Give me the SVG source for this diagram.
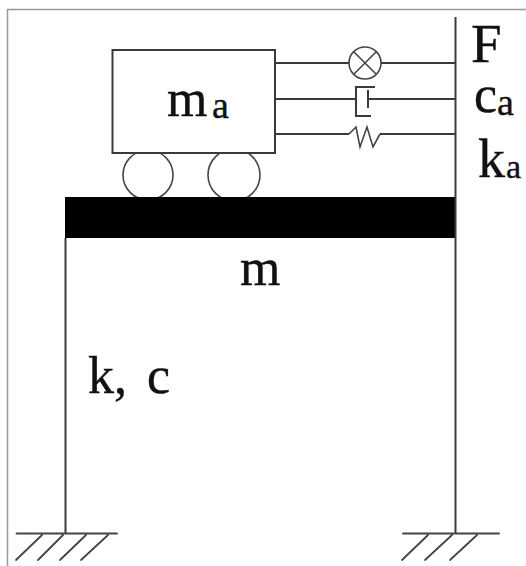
<svg xmlns="http://www.w3.org/2000/svg" width="526" height="566" viewBox="0 0 526 566">
<style>
.l{fill:none;stroke:#3a3a3a;stroke-width:2}
.h{fill:none;stroke:#444;stroke-width:1.8;stroke-linecap:round}
.t{fill:none;stroke:#444;stroke-width:1.6}
.w{fill:#fff;stroke:#444;stroke-width:1.6}
text{font-family:"Liberation Serif",serif;fill:#111;stroke:#111;stroke-width:.4}
.b{font-size:52px}
.s{font-size:38px}
</style>
<rect width="526" height="566" fill="#fff"/>
<path d="M7.500 566V9.500H526" fill="none" stroke="#999" stroke-width="1.500"/>
<g id="wheel-left"><circle class="w" cx="148" cy="175" r="25"/></g>
<g id="wheel-right"><circle class="w" cx="234" cy="175" r="26"/></g>
<g id="cart"><rect class="l" x="112.500" y="50" width="162.500" height="103" style="fill:#fff"/>
<text class="b" x="167" y="116">m</text><text class="s" x="212" y="118">a</text></g>
<g id="beam"><rect x="65" y="197" width="391" height="41" fill="#000"/><text class="b" x="240" y="285">m</text></g>
<g id="connectors">
<path class="l" d="M455.500 17V533M65.500 238V533"/>
<path class="l" d="M275 63H349M381 63H455M275 99H356M368 99H455M275 134H349M380 134H455"/>
</g>
<g id="actuator"><circle class="t" cx="365" cy="63" r="16"/><path class="t" d="M354 52L376 74M376 52L354 74"/></g>
<g id="damper"><path class="l" d="M375 87H356V116H371M368 90V108"/></g>
<g id="spring"><path class="t" d="M349 134L356 127L360 147L367 127L373 147L380 134"/></g>
<g id="ground-left"><path class="h" d="M16.500 533.500H117M42 535L16 560M63 535L38 560M86 535L60 560M108 535L81 560"/></g>
<g id="ground-right"><path class="h" d="M403 533.500H499M428 535L402 560M452 535L425 560M477 535L450 560"/></g>
<text x="471" y="62" font-size="55">F</text>
<text class="b" x="474" y="112">c</text><text class="s" x="497" y="115">a</text>
<text x="478" y="177" font-size="54">k</text><text x="506" y="178" font-size="34">a</text>
<text class="b" x="88" y="393" word-spacing="7">k, c</text>
</svg>
